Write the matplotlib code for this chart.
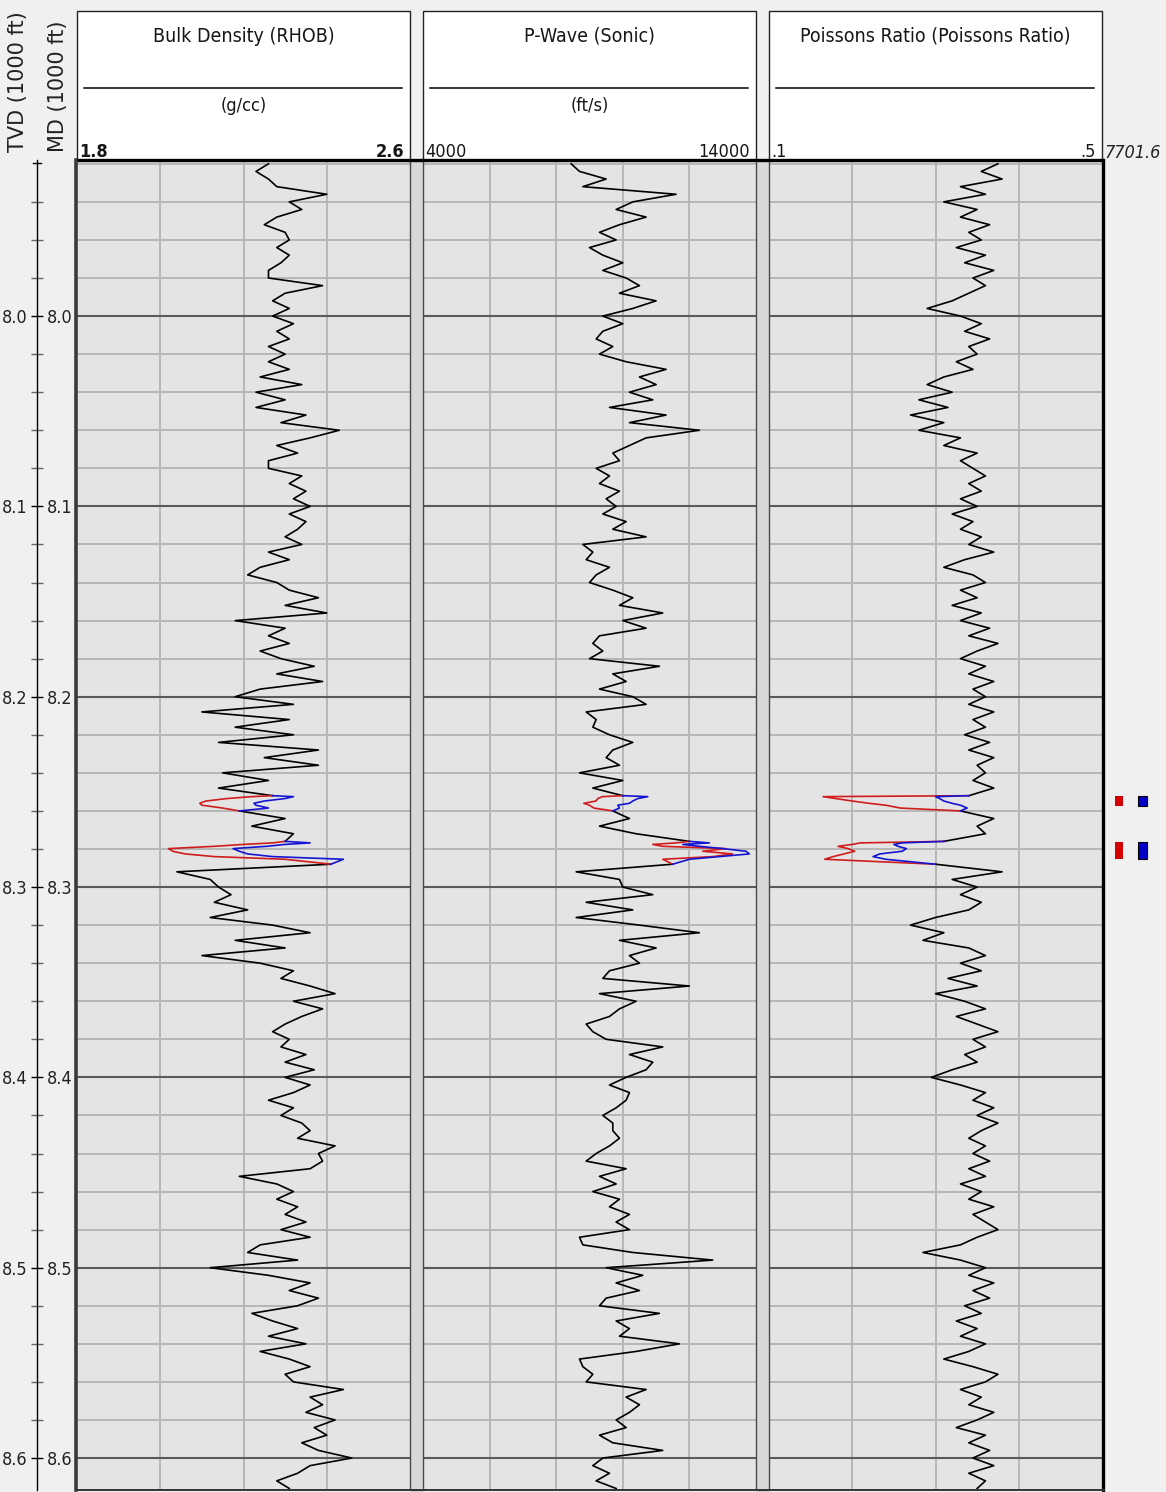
import os
import numpy as np
import matplotlib
matplotlib.use("Agg")
import matplotlib.pyplot as plt
from matplotlib import font_manager
from matplotlib.font_manager import FontProperties
from matplotlib.patches import Rectangle

nan = np.nan

# ---------------- log data (depth in 1000 ft, one sample every 4 ft) ----------------
DEPTH_START = 7.920
DEPTH_STEP = 0.004

rhob = [
    2.26, 2.23, 2.26, 2.28, 2.40, 2.31, 2.34, 2.28, 2.25, 2.30,
    2.31, 2.28, 2.31, 2.29, 2.26, 2.26, 2.39, 2.30, 2.27, 2.31,
    2.27, 2.32, 2.28, 2.31, 2.26, 2.30, 2.26, 2.31, 2.24, 2.34,
    2.23, 2.30, 2.23, 2.35, 2.29, 2.43, 2.36, 2.28, 2.33, 2.26,
    2.26, 2.34, 2.31, 2.35, 2.32, 2.36, 2.31, 2.35, 2.33, 2.30,
    2.34, 2.26, 2.31, 2.24, 2.21, 2.28, 2.31, 2.38, 2.30, 2.40,
    2.18, 2.30, 2.26, 2.31, 2.24, 2.29, 2.37, 2.28, 2.39, 2.24,
    2.18, 2.32, 2.10, 2.31, 2.18, 2.32, 2.14, 2.38, 2.25, 2.38,
    2.15, 2.26, 2.14, 2.27, nan, 2.19, 2.30, 2.22, 2.32, 2.30,
    nan, nan, 2.41, 2.04, 2.12, 2.14, 2.17, 2.13, 2.21, 2.12,
    2.27, 2.36, 2.18, 2.30, 2.10, 2.24, 2.32, 2.29, 2.36, 2.42,
    2.32, 2.39, 2.34, 2.30, 2.27, 2.31, 2.29, 2.35, 2.30, 2.37,
    2.30, 2.36, 2.32, 2.26, 2.32, 2.29, 2.34, 2.36, 2.33, 2.42,
    2.38, 2.39, 2.36, 2.19, 2.28, 2.32, 2.28, 2.33, 2.30, 2.35,
    2.29, 2.36, 2.24, 2.21, 2.33, 2.12, 2.26, 2.36, 2.31, 2.38,
    2.33, 2.22, 2.27, 2.33, 2.26, 2.35, 2.24, 2.31, 2.36, 2.30,
    2.32, 2.44, 2.36, 2.39, 2.35, 2.42, 2.37, 2.40, 2.34, 2.38,
    2.46, 2.36, 2.33, 2.28, 2.31,
]

pwave = [
    8450, 8700, 9500, 8800, 11600, 10300, 9800, 10700, 9900, 9300,
    9800, 9000, 9400, 10000, 9400, 10100, 10500, 9900, 11000, 10300,
    9400, 10000, 9400, 9200, 9700, 9300, 10100, 11300, 10500, 11000,
    10200, 10900, 9600, 11300, 10200, 12300, 10700, 10200, 9700, 9900,
    9200, 9600, 9300, 9900, 9500, 9800, 9400, 10100, 9700, 10700,
    8800, 9100, 8900, 9600, 9200, 9000, 9700, 10300, 9900, 11200,
    10000, 10700, 9300, 9100, 9400, 9000, 11100, 9700, 10100, 9300,
    10300, 10700, 8900, 9200, 9100, 9600, 10300, 9700, 9500, 9900,
    8700, 10000, 9100, 10000, nan, 9700, 10200, 9300, 10400, 12000,
    nan, nan, 11500, 8600, 9900, 10000, 10900, 8900, 10300, 8600,
    10500, 12300, 9900, 11000, 10200, 10500, 9600, 9400, 12000, 9300,
    10400, 9900, 9600, 8900, 9100, 9500, 11200, 10200, 10900, 10700,
    10100, 9600, 10200, 10100, 9800, 9400, 9700, 9700, 9900, 9600,
    9200, 8900, 10100, 9300, 9800, 9100, 9900, 9600, 10200, 9800,
    10200, 8700, 8800, 10300, 12700, 9500, 10600, 9800, 10500, 9500,
    9300, 11100, 9800, 10200, 9900, 11700, 10400, 8700, 8800, 9100,
    8900, 10700, 10100, 10500, 10200, 9800, 10100, 9300, 9700, 11200,
    9400, 9100, 9600, 9200, 9800,
]

poisson = [
    0.375, 0.355, 0.38, 0.33, 0.36, 0.31, 0.35, 0.33, 0.365, 0.34,
    0.355, 0.325, 0.36, 0.335, 0.37, 0.345, 0.36, 0.34, 0.32, 0.29,
    0.33, 0.355, 0.335, 0.365, 0.34, 0.35, 0.325, 0.345, 0.31, 0.29,
    0.32, 0.28, 0.315, 0.27, 0.31, 0.28, 0.33, 0.31, 0.35, 0.33,
    0.345, 0.36, 0.34, 0.355, 0.33, 0.35, 0.32, 0.345, 0.33, 0.355,
    0.34, 0.37, 0.335, 0.31, 0.345, 0.36, 0.33, 0.35, 0.32, 0.355,
    0.33, 0.365, 0.34, 0.375, 0.35, 0.33, 0.36, 0.34, 0.37, 0.345,
    0.36, 0.34, 0.37, 0.345, 0.36, 0.335, 0.365, 0.34, 0.37, 0.35,
    0.36, 0.345, 0.37, 0.34, nan, 0.33, 0.37, 0.35, 0.36, 0.31,
    nan, nan, 0.30, 0.38, 0.32, 0.35, 0.33, 0.355, 0.34, 0.30,
    0.27, 0.31, 0.285, 0.34, 0.36, 0.33, 0.355, 0.315, 0.35, 0.30,
    0.335, 0.36, 0.325, 0.35, 0.375, 0.345, 0.36, 0.335, 0.35, 0.32,
    0.295, 0.33, 0.36, 0.345, 0.37, 0.35, 0.375, 0.355, 0.34, 0.36,
    0.345, 0.365, 0.34, 0.36, 0.33, 0.355, 0.34, 0.37, 0.345, 0.36,
    0.375, 0.35, 0.33, 0.285, 0.33, 0.36, 0.34, 0.37, 0.345, 0.365,
    0.335, 0.355, 0.325, 0.35, 0.33, 0.36, 0.34, 0.31, 0.345, 0.375,
    0.36, 0.33, 0.355, 0.34, 0.37, 0.35, 0.325, 0.36, 0.34, 0.365,
    0.345, 0.37, 0.34, 0.36, 0.35,
]

# substituted zones: red and blue curves replace the original log
zone1_depth = [8.252, 8.2525, 8.2535, 8.2548, 8.256, 8.257, 8.2585, 8.260]
zone2_depth = [8.276, 8.2768, 8.2776, 8.2786, 8.2798, 8.2812, 8.2826, 8.2840, 8.2854, 8.288]

rhob_red1 = [2.27, 2.22, 2.16, 2.11, 2.095, 2.10, 2.15, 2.19]
rhob_blue1 = [2.27, 2.32, 2.30, 2.25, 2.225, 2.23, 2.26, 2.19]
rhob_red2 = [2.30, 2.27, 2.20, 2.13, 2.02, 2.03, 2.06, 2.13, 2.30, 2.41]
rhob_blue2 = [2.30, 2.36, 2.30, 2.256, 2.175, 2.19, 2.21, 2.27, 2.44, 2.41]

pwave_red1 = [10000, 9390, 9250, 9190, 8830, 9000, 9130, 9700]
pwave_blue1 = [10000, 10750, 10450, 10300, 10200, 9850, 9900, 9700]
pwave_red2 = [12000, 11600, 10900, 11200, 13100, 12400, 13300, 12700, 11200, 11500]
pwave_blue2 = [12000, 12600, 11800, 12300, 13000, 13700, 13800, 12900, 12000, 11500]

poisson_red1 = [0.34, 0.165, 0.18, 0.20, 0.22, 0.24, 0.258, 0.33]
poisson_blue1 = [0.34, 0.30, 0.305, 0.31, 0.32, 0.33, 0.338, 0.33]
poisson_red2 = [0.31, 0.21, 0.20, 0.183, 0.195, 0.203, 0.19, 0.177, 0.167, 0.30]
poisson_blue2 = [0.31, 0.26, 0.25, 0.255, 0.265, 0.26, 0.233, 0.225, 0.24, 0.30]

zone_tops = [8.2522, 8.2764]
zone_bases = [8.2575, 8.2853]

track_titles = ["Bulk Density (RHOB)", "P-Wave (Sonic)", "Poissons Ratio (Poissons Ratio)"]
track_units = ["(g/cc)", "(ft/s)", ""]
track_left_labels = ["1.8", "4000", ".1"]
track_right_labels = ["2.6", "14000", ".5"]
track_ranges = [(1.8, 2.6), (4000, 14000), (0.1, 0.5)]
track_divisions = [4, 5, 4]
depth_ticks = [8.0, 8.1, 8.2, 8.3, 8.4, 8.5, 8.6]
top_depth_label = "7701.6"

# ---------------- layout (pixels) ----------------
W, H = 1166, 1492
TRACK_X = [(77, 410), (423, 756), (769, 1102)]
HEAD_TOP, DATA_TOP, DATA_BOT = 11, 160, 1490
DEPTH_TOP, DEPTH_BOT = 7.918, 8.6168

BG = "#f0f0f0"
TRACK_BG = "#e4e4e4"
GRID_MINOR = "#b6b6b6"
GRID_MAJOR = "#5a5a5a"
RED = "#d01c1c"
BLUE = "#1414d2"
INK = "#161616"


# ---------------- narrow font lookup ----------------
def _find_narrow(bold=False, italic=False):
    patterns = ["liberationsansnarrow", "dejavusanscondensed", "robotocondensed",
                "notosanscondensed", "opensanscondensed", "arialnarrow"]
    skip = ("light", "thin", "black", "medium", "semibold", "extrabold", "mono")
    for pat in patterns:
        for f in font_manager.fontManager.ttflist:
            fn = os.path.splitext(os.path.basename(f.fname))[0].lower()
            fn = fn.replace("-", "").replace("_", "").replace(" ", "")
            if pat not in fn or any(k in fn for k in skip):
                continue
            if ("bold" in fn) != bold:
                continue
            if ("italic" in fn or "oblique" in fn) != italic:
                continue
            return FontProperties(fname=f.fname)
    return FontProperties(family="Liberation Sans",
                          weight="bold" if bold else "normal",
                          style="italic" if italic else "normal")


FP_REG = _find_narrow()
FP_BOLD = _find_narrow(bold=True)
FP_ITAL = _find_narrow(italic=True)


def sized(fp, size):
    p = fp.copy()
    p.set_size(size)
    return p


def fbox(x0, y0, x1, y1):
    return [x0 / W, 1 - y1 / H, (x1 - x0) / W, (y1 - y0) / H]


fig = plt.figure(figsize=(W / 100, H / 100), dpi=100, facecolor=BG)
renderer = fig.canvas.get_renderer()


def fitted(fp, text, target_px, cap=None):
    """Font properties sized so that `text` spans about target_px pixels."""
    t = fig.text(0, 0, text, fontproperties=sized(fp, 10))
    w = t.get_window_extent(renderer).width
    t.remove()
    size = 10 * target_px / w
    if cap is not None:
        size = min(size, cap)
    return sized(fp, size)


depth = DEPTH_START + DEPTH_STEP * np.arange(len(rhob))
curves = [
    (rhob, [(zone1_depth, rhob_red1, rhob_blue1), (zone2_depth, rhob_red2, rhob_blue2)]),
    (pwave, [(zone1_depth, pwave_red1, pwave_blue1), (zone2_depth, pwave_red2, pwave_blue2)]),
    (poisson, [(zone1_depth, poisson_red1, poisson_blue1), (zone2_depth, poisson_red2, poisson_blue2)]),
]

grid_depths = np.round(np.arange(7.92, 8.62 + 1e-9, 0.02), 3)

for i, (x0, x1) in enumerate(TRACK_X):
    ax = fig.add_axes(fbox(x0, DATA_TOP, x1, DATA_BOT))
    ax.set_facecolor(TRACK_BG)
    lo, hi = track_ranges[i]
    ax.set_xlim(lo, hi)
    ax.set_ylim(DEPTH_BOT, DEPTH_TOP)
    ax.set_xticks([])
    ax.set_yticks([])
    for s in ax.spines.values():
        s.set_visible(False)
    for v in np.linspace(lo, hi, track_divisions[i] + 1)[1:-1]:
        ax.axvline(v, color=GRID_MINOR, lw=1.4, zorder=1)
    for d in grid_depths:
        major = abs(d * 10 - round(d * 10)) < 1e-6
        ax.axhline(d, color=GRID_MAJOR if major else GRID_MINOR,
                   lw=1.5 if major else 1.4, zorder=1.2 if major else 1)
    values, zones = curves[i]
    ax.plot(values, depth, color="black", lw=1.2, zorder=3)
    for zd, red, blue in zones:
        ax.plot(red, zd, color=RED, lw=1.2, zorder=4)
        ax.plot(blue, zd, color=BLUE, lw=1.2, zorder=4)

# depth scale on the left (TVD labels left of the line, MD labels right)
fp_depth = sized(FP_REG, 13)
axd = fig.add_axes(fbox(37, DATA_TOP, 38, DATA_BOT))
axd.patch.set_alpha(0)
axd.set_ylim(DEPTH_BOT, DEPTH_TOP)
axd.set_xticks([])
for side in ("top", "bottom", "right"):
    axd.spines[side].set_visible(False)
axd.spines["left"].set_linewidth(1.0)
axd.set_yticks(depth_ticks)
axd.set_yticklabels([f"{d:.1f}" for d in depth_ticks], fontproperties=fp_depth, color="#222222")
axd.set_yticks(np.round(np.arange(7.94, 8.62, 0.02), 3), minor=True)
axd.tick_params(axis="y", which="major", direction="inout", length=9, width=1.0,
                left=True, right=False, labelleft=True, labelright=True, pad=2)
axd.tick_params(axis="y", which="minor", direction="inout", length=9, width=1.0,
                color="#666666", left=True, right=False)

# overlay for headers, borders and labels
ov = fig.add_axes([0, 0, 1, 1], zorder=5)
ov.set_xlim(0, W)
ov.set_ylim(H, 0)
ov.axis("off")
ov.patch.set_alpha(0)

fp_title = fitted(FP_REG, track_titles[2], 271, cap=17)
fp_unit = sized(FP_REG, 13)
fp_scale = sized(FP_REG, 13)
fp_scale_b = sized(FP_BOLD, 13)

for i, (x0, x1) in enumerate(TRACK_X):
    cx = (x0 + x1) / 2
    ov.add_patch(Rectangle((x0, HEAD_TOP), x1 - x0, DATA_TOP - HEAD_TOP,
                           fc="white", ec="#222222", lw=1.0, zorder=1))
    ov.plot([x0 + 7, x1 - 8], [88, 88], color="black", lw=1.1, zorder=2)
    ov.text(cx, 36, track_titles[i], ha="center", va="center",
            fontproperties=fp_title, color=INK)
    if track_units[i]:
        ov.text(cx, 106, track_units[i], ha="center", va="center",
                fontproperties=fp_unit, color=INK)
    fp = fp_scale_b if i == 0 else fp_scale
    ov.text(x0 + 2, 157, track_left_labels[i], ha="left", va="baseline",
            fontproperties=fp, color=INK)
    ov.text(x1 - 6, 157, track_right_labels[i], ha="right", va="baseline",
            fontproperties=fp, color=INK)

ov.text(1104, 158, top_depth_label, ha="left", va="baseline",
        fontproperties=sized(FP_ITAL, 13), color="#222222")

# separators between tracks
for gx0, gx1 in [(TRACK_X[0][1], TRACK_X[1][0]), (TRACK_X[1][1], TRACK_X[2][0])]:
    ov.add_patch(Rectangle((gx0, DATA_TOP), gx1 - gx0, DATA_BOT - DATA_TOP,
                           fc="#d8d8d8", ec="#4a4a4a", lw=1.0, zorder=2))

ov.plot([75, 1104], [DATA_TOP, DATA_TOP], color="black", lw=2.4, zorder=6,
        solid_capstyle="butt")
ov.plot([76, 76], [DATA_TOP, DATA_BOT], color="#3a3a3a", lw=2.6, zorder=6)
ov.plot([1103, 1103], [DATA_TOP, DATA_BOT], color="black", lw=2.4, zorder=6)
ov.plot([76, 1104], [DATA_BOT, DATA_BOT], color="#333333", lw=1.4, zorder=6)
ov.plot([33, 41], [163, 163], color="black", lw=1.0)

ov.text(18, 152, "TVD (1000 ft)", rotation=90, ha="center", va="bottom",
        fontsize=15, family="DejaVu Sans", color="#222222")
ov.text(58, 152, "MD (1000 ft)", rotation=90, ha="center", va="bottom",
        fontsize=15, family="DejaVu Sans", color="#222222")

# zone flags to the right of the tracks
axm = fig.add_axes(fbox(1108, DATA_TOP, 1155, DATA_BOT))
axm.set_xlim(1108, 1155)
axm.set_ylim(DEPTH_BOT, DEPTH_TOP)
axm.axis("off")
for top, base in zip(zone_tops, zone_bases):
    axm.add_patch(Rectangle((1115, top), 8, base - top, fc="#d40000", ec="none"))
    axm.add_patch(Rectangle((1138, top), 9, base - top, fc="#0000c8", ec="black", lw=0.8))

fig.savefig("out.png", dpi=100, facecolor=BG)
